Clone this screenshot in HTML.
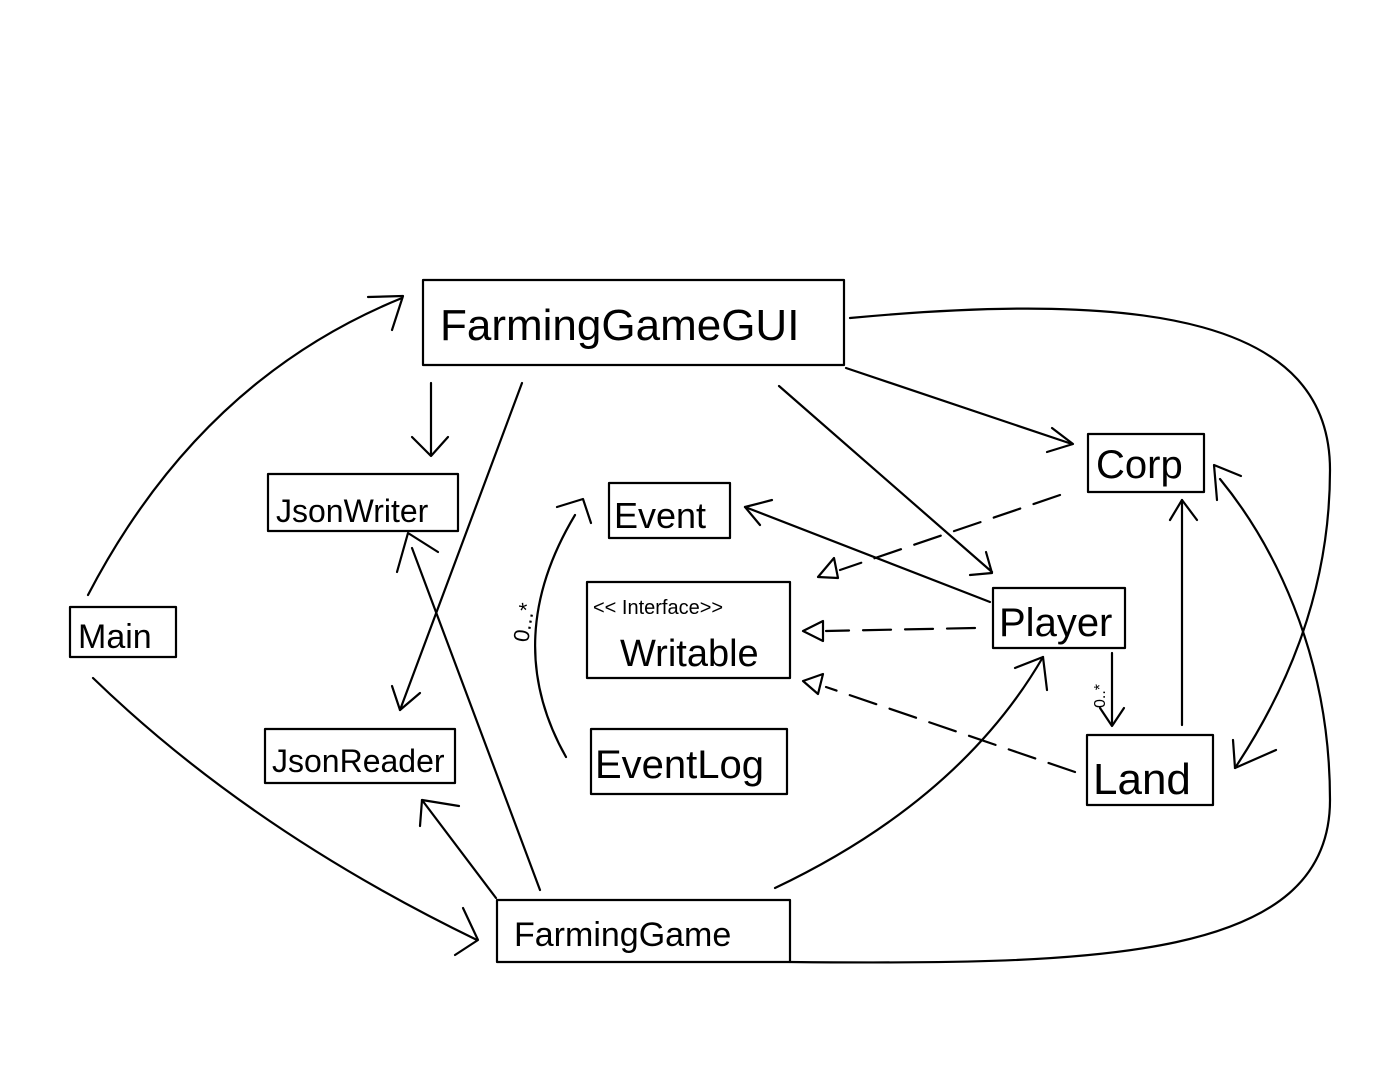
<!DOCTYPE html>
<html><head><meta charset="utf-8"><style>
html,body{margin:0;padding:0;background:#fff;}
svg{display:block;}
text{font-family:"Liberation Sans",sans-serif;fill:#000;}
</style></head><body>
<svg width="1394" height="1080" viewBox="0 0 1394 1080" xmlns="http://www.w3.org/2000/svg">
<g fill="none" stroke="#000" stroke-width="2.2" stroke-linecap="round" stroke-linejoin="round">
<rect x="423" y="280" width="421" height="85"/>
<rect x="268" y="474" width="190" height="57"/>
<rect x="609" y="483" width="121" height="55"/>
<rect x="1088" y="434" width="116" height="58"/>
<rect x="587" y="582" width="203" height="96"/>
<rect x="993" y="588" width="132" height="60"/>
<rect x="70" y="607" width="106" height="50"/>
<rect x="265" y="729" width="190" height="54"/>
<rect x="591" y="729" width="196" height="65"/>
<rect x="1087" y="735" width="126" height="70"/>
<rect x="497" y="900" width="293" height="62"/>
<path d="M88,595 Q200,380 402,298"/>
<path d="M368,297 L403,296 L392,330"/>
<path d="M93,678 Q250,830 477,940"/>
<path d="M463,908 L478,940 L455,955"/>
<path d="M431,383 L431,455"/>
<path d="M412,437 L431,456 L448,437"/>
<path d="M522,383 L400,710"/>
<path d="M392,686 L400,710 L420,693"/>
<path d="M846,368 L1072,444"/>
<path d="M1052,428 L1073,444 L1047,452"/>
<path d="M779,386 L992,572"/>
<path d="M970,575 L992,573 L986,552"/>
<path d="M850,318 C1150,290 1330,320 1330,470 C1330,600 1280,700 1235,768"/>
<path d="M1233,740 L1235,768 L1276,750"/>
<path d="M790,962 C1100,965 1330,960 1330,800 C1330,650 1270,540 1220,479"/>
<path d="M1217,500 L1214,465 L1241,476"/>
<path d="M540,890 L412,548"/>
<path d="M397,572 L408,533 L438,552"/>
<path d="M496,898 L422,800"/>
<path d="M420,826 L422,800 L459,806"/>
<path d="M775,888 Q960,800 1043,657"/>
<path d="M1015,668 L1043,657 L1047,690"/>
<path d="M990,602 L745,507"/>
<path d="M760,525 L745,507 L772,500"/>
<path d="M1112,653 L1112,724"/>
<path d="M1100,708 L1112,726 L1124,708"/>
<path d="M1182,725 L1182,500"/>
<path d="M1170,520 L1182,500 L1197,520"/>
<path d="M566,757 Q500,640 575,515"/>
<path d="M557,507 L583,499 L591,523"/>
<g stroke-dasharray="28,14">
<path d="M975,628 L826,631"/>
<path d="M1060,495 L840,570"/>
<path d="M1075,772 L826,687"/>
</g>
<path d="M803,631 L823,621 L823,641 Z"/>
<path d="M818,577 L834,558 L838,578 Z"/>
<path d="M803,681 L823,674 L818,694 Z"/>
</g>
<text x="440" y="340" font-size="44">FarmingGameGUI</text>
<text x="276" y="522" font-size="32">JsonWriter</text>
<text x="614" y="528" font-size="36">Event</text>
<text x="1096" y="478" font-size="40">Corp</text>
<text x="593" y="614" font-size="20">&lt;&lt; Interface&gt;&gt;</text>
<text x="620" y="666" font-size="38">Writable</text>
<text x="999" y="636" font-size="40">Player</text>
<text x="78" y="648" font-size="34">Main</text>
<text x="272" y="772" font-size="32">JsonReader</text>
<text x="595" y="778" font-size="40">EventLog</text>
<text x="1093" y="794" font-size="44">Land</text>
<text x="514" y="946" font-size="34">FarmingGame</text>
<text transform="translate(528,643) rotate(-80)" font-size="22">0...*</text>
<text transform="translate(1105,708) rotate(-90)" font-size="16">0..*</text>
</svg>
</body></html>
